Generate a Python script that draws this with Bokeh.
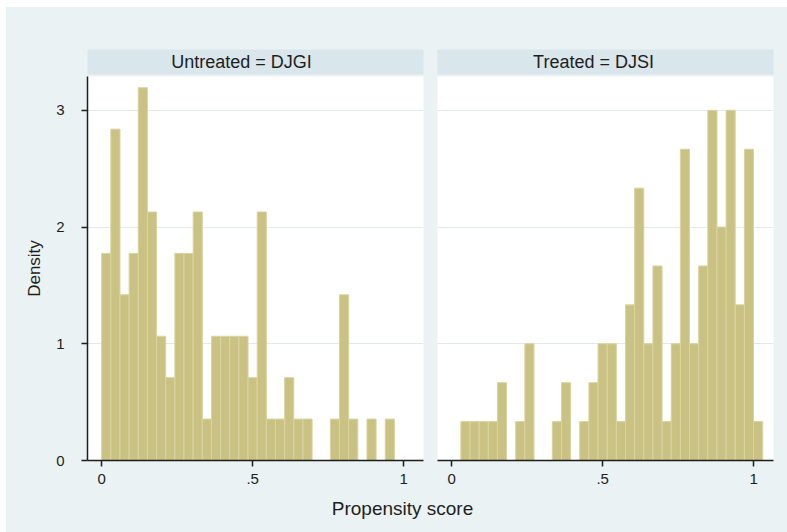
from bokeh.plotting import figure
from bokeh.layouts import row, column
from bokeh.models import FixedTicker, Label, Spacer, ColumnDataSource
from bokeh.embed import file_html
from bokeh.resources import INLINE

# Histogram bins shared by both groups (propensity score)
bin_start = 0.0
bin_width = 0.0303

# Observations per bin, 34 bins
untreated_counts = [5, 8, 4, 5, 9, 6, 3, 2, 5, 5, 6, 1, 3, 3, 3, 3, 2,
                    6, 1, 1, 2, 1, 1, 0, 0, 1, 4, 1, 0, 1, 0, 1, 0, 0]
treated_counts = [0, 1, 1, 1, 1, 2, 0, 1, 3, 0, 0, 1, 2, 0, 1, 2, 3,
                  3, 1, 4, 7, 3, 5, 1, 3, 8, 3, 5, 9, 6, 9, 4, 8, 1]

panel_titles = ["Untreated = DJGI", "Treated = DJSI"]
x_ticks = [0, 0.5, 1]
x_tick_labels = ["0", ".5", "1"]
y_ticks = [0, 1, 2, 3]
y_tick_labels = ["0", "1", "2", "3"]
x_title = "Propensity score"
y_title = "Density"

BG = "#eaf2f3"
STRIP = "#d9e6eb"
BAR_FILL = "#c9c283"
BAR_LINE = "#d9d4a2"
GRID = "#e1ebee"
INK = "#1e1e1e"
FONT = "Liberation Sans"

X_RANGE = (-0.047, 1.066)
Y_RANGE = (0, 3.29)


def histogram_source(counts):
    n = sum(counts)
    rows = [(i, c) for i, c in enumerate(counts) if c > 0]
    left = [bin_start + i * bin_width for i, _ in rows]
    right = [bin_start + (i + 1) * bin_width for i, _ in rows]
    dens = [c / (n * bin_width) for _, c in rows]
    return ColumnDataSource(dict(left=left, right=right, top=dens,
                                 bottom=[0] * len(rows)))


def strip(title, width, border_left, border_right, shift):
    s = figure(width=width, height=69, x_range=(0, 1), y_range=(0, 1),
               output_backend="svg", toolbar_location=None, title=None,
               min_border_left=border_left, min_border_right=border_right,
               min_border_top=42, min_border_bottom=2)
    s.axis.visible = False
    s.grid.visible = False
    s.outline_line_color = None
    s.background_fill_color = STRIP
    s.border_fill_color = BG
    s.add_layout(Label(x=0.5, y=0.5, x_offset=shift, text=title,
                       text_align="center", text_baseline="middle",
                       text_font=FONT, text_font_size="18px",
                       text_color=INK))
    return s


def panel(counts, width, border_left, border_right, show_y):
    p = figure(width=width, height=416, x_range=X_RANGE, y_range=Y_RANGE,
               output_backend="svg", toolbar_location=None, title=None,
               min_border_left=border_left, min_border_right=border_right,
               min_border_top=0, min_border_bottom=32)
    p.outline_line_color = None
    p.background_fill_color = "white"
    p.border_fill_color = BG

    p.quad(left="left", right="right", top="top", bottom="bottom",
           source=histogram_source(counts), fill_color=BAR_FILL,
           line_color=BAR_LINE, line_width=1)

    p.xgrid.visible = False
    p.ygrid.ticker = FixedTicker(ticks=y_ticks[1:])
    p.ygrid.grid_line_color = GRID
    p.ygrid.grid_line_width = 1

    xa = p.xaxis[0]
    xa.ticker = FixedTicker(ticks=x_ticks)
    xa.major_label_overrides = dict(zip(x_ticks, x_tick_labels))
    xa.major_tick_in = 0
    xa.major_tick_out = 6
    xa.minor_tick_line_color = None
    xa.axis_line_color = INK
    xa.axis_line_width = 1.5
    xa.major_tick_line_color = INK
    xa.major_tick_line_width = 1.5
    xa.major_label_standoff = 7
    xa.major_label_text_font = FONT
    xa.major_label_text_font_size = "15px"
    xa.major_label_text_color = INK

    ya = p.yaxis[0]
    if show_y:
        ya.ticker = FixedTicker(ticks=y_ticks)
        ya.major_label_overrides = dict(zip(y_ticks, y_tick_labels))
        ya.major_tick_in = 0
        ya.major_tick_out = 6
        ya.minor_tick_line_color = None
        ya.axis_line_color = INK
        ya.axis_line_width = 1.5
        ya.major_tick_line_color = INK
        ya.major_tick_line_width = 1.5
        ya.major_label_standoff = 17
        ya.major_label_text_font = FONT
        ya.major_label_text_font_size = "15px"
        ya.major_label_text_color = INK
        ya.axis_label = y_title
        ya.axis_label_text_font = FONT
        ya.axis_label_text_font_size = "17px"
        ya.axis_label_text_font_style = "normal"
        ya.axis_label_text_color = INK
        ya.axis_label_standoff = 9
    else:
        ya.visible = False
    return p


left_w, right_w = 424, 357
left_strip = strip(panel_titles[0], left_w, 81, 7, -14)
right_strip = strip(panel_titles[1], right_w, 7, 14, -12)
left_panel = panel(untreated_counts, left_w, 81, 7, True)
right_panel = panel(treated_counts, right_w, 7, 14, False)

# shared x-axis title below both panels
footer = figure(width=left_w + right_w, height=40, x_range=(0, 781),
                y_range=(0, 40), output_backend="svg",
                toolbar_location=None, title=None,
                min_border_left=0, min_border_right=0,
                min_border_top=0, min_border_bottom=0)
footer.axis.visible = False
footer.grid.visible = False
footer.outline_line_color = None
footer.background_fill_color = BG
footer.border_fill_color = BG
footer.add_layout(Label(x=396, y=24, text=x_title, text_align="center",
                        text_baseline="middle", text_font=FONT,
                        text_font_size="19px", text_color=INK))

fill = {"background-color": BG}
strips = row(left_strip, right_strip, spacing=0, styles=fill)
panels = row(left_panel, right_panel, spacing=0, styles=fill)
graph = column(strips, panels, footer, spacing=0, styles=fill)
page = column(Spacer(height=7),
              row(Spacer(width=6), graph, spacing=0), spacing=0)

open("out.html", "w").write(file_html(page, INLINE))
